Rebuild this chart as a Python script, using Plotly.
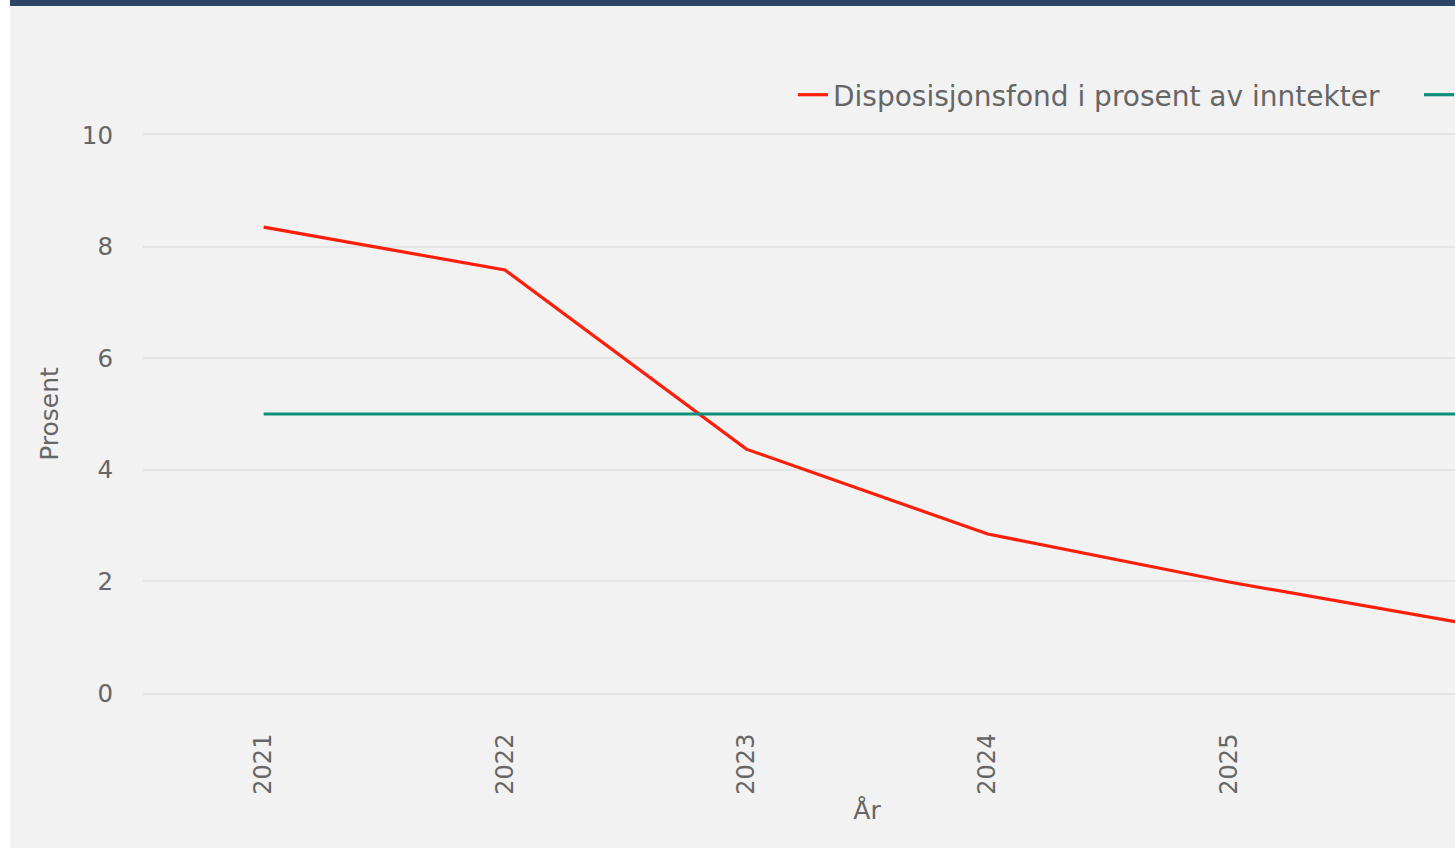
import plotly.graph_objects as go

years = ["2021", "2022", "2023", "2024", "2025", "2026"]
disp_fond = [8.35, 7.58, 4.37, 2.85, 1.99, 1.23]
anbefalt = [5, 5, 5, 5, 5, 5]
name_disp = "Disposisjonsfond i prosent av inntekter"
name_anb = "Anbefalt nivå"
y_ticks = [0, 2, 4, 6, 8, 10]

W, H = 1750, 848
ML, MT = 133, 135
PW = 1448
PH = 558
MR = W - ML - PW
MB = H - MT - PH
GRID = "#e4e4e4"
TXT = "#666666"

fig = go.Figure()
fig.add_trace(go.Scatter(x=years, y=disp_fond, mode="lines", name=name_disp,
                         line=dict(color="#ff1e0a", width=3.2)))
fig.add_trace(go.Scatter(x=years, y=anbefalt, mode="lines", name=name_anb,
                         line=dict(color="#0c8f7d", width=3.2)))

fig.update_layout(
    width=W, height=H,
    margin=dict(l=ML, r=MR, t=MT, b=MB, autoexpand=False),
    paper_bgcolor="#f2f2f2", plot_bgcolor="#f2f2f2",
    font=dict(family="DejaVu Sans", color=TXT, size=24),
    showlegend=True,
    legend=dict(orientation="h", x=(783 - ML) / PW, xanchor="left",
                y=1 + (135 - 95) / PH, yanchor="middle", entrywidth=581,
                font=dict(size=28, color=TXT), bgcolor="rgba(0,0,0,0)"),
    xaxis=dict(type="category", range=[-0.5, 5.5], showgrid=False, zeroline=False,
               showline=True, mirror=True, linecolor=GRID, linewidth=2,
               ticks="", tickangle=-90, ticklabelstandoff=29,
               tickfont=dict(size=24, color=TXT),
               title=dict(text="År", font=dict(size=25, color=TXT), standoff=8),
               automargin=False),
    yaxis=dict(range=[0, 10], tickvals=y_ticks, showgrid=True, gridcolor=GRID,
               gridwidth=2, zeroline=False,
               showline=False, ticks="", ticklabelstandoff=29,
               tickfont=dict(size=24.5, color=TXT),
               title=dict(text="Prosent", font=dict(size=25, color=TXT), standoff=16),
               automargin=False),
    shapes=[dict(type="rect", xref="paper", yref="paper",
                 x0=-ML / PW, x1=(W - ML) / PW,
                 y0=1 + (MT - 6) / PH, y1=1 + MT / PH,
                 fillcolor="#2c4466", line=dict(width=0), layer="above")],
)

fig.write_html("out.html",
               post_script="document.body.style.margin='0 0 0 10px';"
                           "document.body.style.overflow='hidden';"
                           "document.documentElement.style.overflow='hidden';")
